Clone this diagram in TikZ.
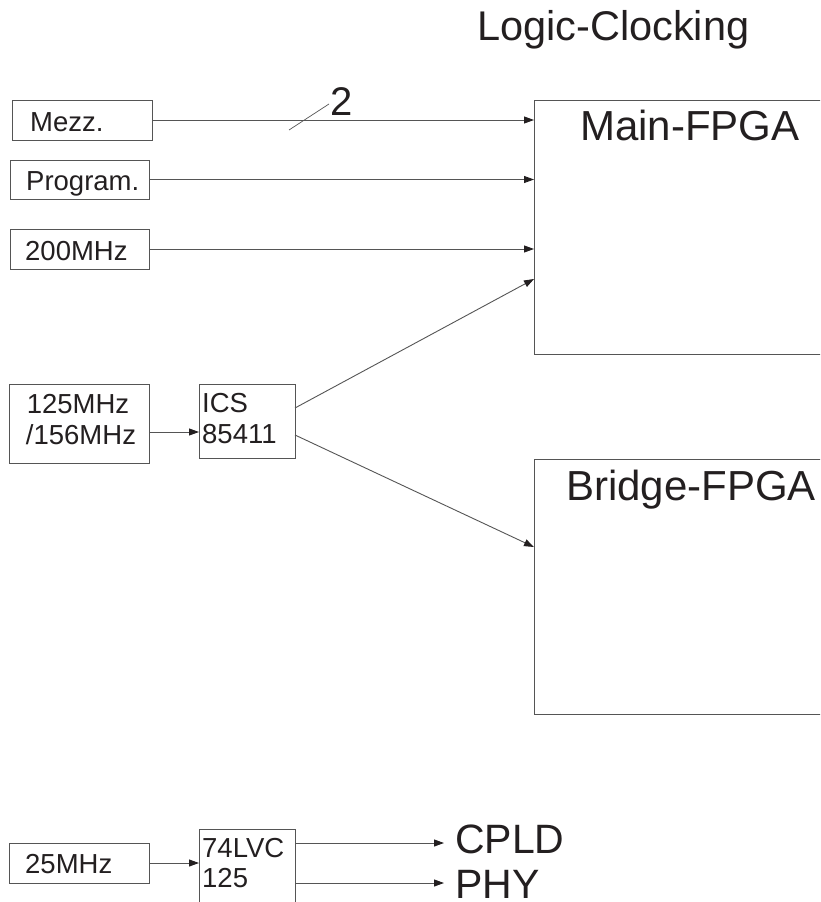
\documentclass[tikz,border=0pt]{standalone}
\usepackage{fontspec}
\setmainfont{Liberation Sans}
\usetikzlibrary{arrows.meta}
\definecolor{ink}{HTML}{231F20}
\definecolor{edge}{HTML}{555555}
\tikzset{
  box/.style={draw=edge, line width=1pt, inner sep=0pt, outer sep=0pt, anchor=north west},
  lbl/.style={text=ink, inner sep=0pt, font=\fontsize{27.5}{30}\selectfont},
  big/.style={text=ink, inner sep=0pt, font=\fontsize{42}{46}\selectfont},
  arr/.style={draw=edge, line width=0.9pt, -{Triangle[length=10pt,width=7pt,color=ink]}},
  wire/.style={draw=edge, line width=0.9pt}
}
\begin{document}
\begin{tikzpicture}[x=1pt,y=-1pt]
\clip (0,0) rectangle (820,902);
\fill[white] (0,0) rectangle (820,902);

% big boxes (extend past right edge)
\node[box, minimum width=320pt, minimum height=254pt] (main) at (534,100) {};
\node[box, minimum width=320pt, minimum height=255pt] (bridge) at (534,459) {};

% input boxes
\node[box, minimum width=140pt, minimum height=40pt] (mezz) at (12,100) {};
\node[box, minimum width=139pt, minimum height=39pt] (prog) at (10,160) {};
\node[box, minimum width=139pt, minimum height=40pt] (mhz200) at (10,229) {};
\node[box, minimum width=140pt, minimum height=79pt] (mhz125) at (9,384) {};
\node[box, minimum width=96pt, minimum height=74pt] (ics) at (199,384) {};
\node[box, minimum width=140pt, minimum height=40pt] (mhz25) at (9,843) {};
\node[box, minimum width=96pt, minimum height=120pt] (lvc) at (199,829) {};

% texts
\node[big, anchor=base west, font=\fontsize{41.5}{46}\selectfont] (title) at (477,40) {Logic-Clocking};
\node[big, anchor=base west] (maint) at (580,140) {Main-FPGA};
\node[big, anchor=base west] (bridget) at (566,500) {Bridge-FPGA};
\node[lbl, anchor=base west] (mezzt) at (30,131) {Mezz.};
\node[lbl, anchor=base west] (progt) at (26,190) {Program.};
\node[lbl, anchor=base west] (t200) at (25,260) {200MHz};
\node[lbl, anchor=base] (t125a) at (78,413) {125MHz};
\node[lbl, anchor=base] (t125b) at (81,444) {/156MHz};
\node[lbl, anchor=base west] (icsa) at (202,412) {ICS};
\node[lbl, anchor=base west] (icsb) at (202,443) {85411};
\node[lbl, anchor=base west] (t25) at (25,873) {25MHz};
\node[lbl, anchor=base west] (lvca) at (202,857) {74LVC};
\node[lbl, anchor=base west] (lvcb) at (202,887) {125};
\node[big, anchor=base west, font=\fontsize{41}{46}\selectfont] (cpld) at (455,853) {CPLD};
\node[big, anchor=base west, font=\fontsize{41}{46}\selectfont] (phy) at (455,898) {PHY};
\node[big, anchor=base west, font=\fontsize{40}{44}\selectfont] (two) at (330,115) {2};

% connectors
\draw[arr] (mezz.east) -- (mezz.east -| main.west);
\draw[arr] (prog.east) -- (prog.east -| main.west);
\draw[arr] (mhz200.east) -- (mhz200.east -| main.west);
\draw[arr] ([yshift=-8.5pt]mhz125.east) -- ([yshift=-8.5pt]mhz125.east -| ics.west);
\draw[arr] ([yshift=13pt]ics.east) -- ([yshift=75pt]main.south west);
\draw[arr] ([yshift=-14pt]ics.east) -- ([yshift=-88pt]bridge.north west);
\draw[arr] (mhz25.east) -- (mhz25.east -| lvc.west);
\draw[arr] ([yshift=-14pt]lvc.north east) -- ([xshift=-11pt,yshift=-14pt]lvc.north east -| cpld.west);
\draw[arr] ([yshift=-54pt]lvc.north east) -- ([xshift=-11pt,yshift=-54pt]lvc.north east -| phy.west);
% bus marker
\coordinate (s1) at (289,130);
\coordinate (s2) at (329,104);
\draw[wire, line width=0.7pt] (s1) -- (s2);
\end{tikzpicture}
\end{document}
